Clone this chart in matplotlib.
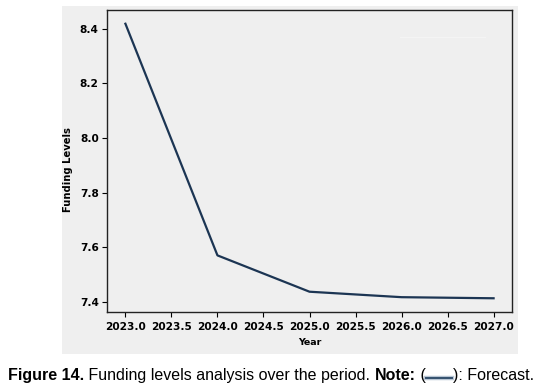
import matplotlib
matplotlib.use("Agg")
import matplotlib.pyplot as plt
from matplotlib.patches import Rectangle
from matplotlib.lines import Line2D

# forecast funding levels
years = [2023, 2024, 2025, 2026, 2027]
funding = [8.418, 7.570, 7.437, 7.417, 7.413]

x_ticks = [2023.0, 2023.5, 2024.0, 2024.5, 2025.0, 2025.5, 2026.0, 2026.5, 2027.0]
y_ticks = [7.4, 7.6, 7.8, 8.0, 8.2, 8.4]

W, H = 546, 392
fig = plt.figure(figsize=(W / 100, H / 100), dpi=100)

# grey screenshot backdrop behind the plot
fig.patches.append(Rectangle((62 / W, (H - 354) / H), (518 - 62) / W, (354 - 6) / H,
                             transform=fig.transFigure, facecolor="#efefef",
                             edgecolor="none", zorder=-5))

ax = fig.add_axes([107 / W, (H - 312) / H, (512 - 107) / W, (312 - 10) / H])
ax.set_zorder(2)
ax.set_facecolor("#efefef")
ax.plot(years, funding, color="#1c3553", lw=1.6)
ax.set_xticks(x_ticks)
ax.set_xticklabels([f"{t:.1f}" for t in x_ticks], fontsize=7.6, fontweight="bold")
ax.set_yticks(y_ticks)
ax.set_yticklabels([f"{t:.1f}" for t in y_ticks], fontsize=7.6, fontweight="bold")
ax.tick_params(length=3.5, width=0.8)
ax.tick_params(axis="x", pad=4)
ax.tick_params(axis="y", pad=2.5)
ax.set_xlabel("Year", fontsize=6.8, fontweight="bold", labelpad=4)
ax.set_ylabel("Funding Levels", fontsize=7.2, fontweight="bold")
ax.yaxis.set_label_coords(-0.084, 0.47)
for s in ax.spines.values():
    s.set_linewidth(1.0)
    s.set_color("#222222")

# faint leftover line at top right
fig.add_artist(Line2D([400 / W, 485 / W], [(H - 37) / H] * 2, color="#f4f4f4", lw=1.0, zorder=5))

# caption, built piece by piece
fam = ["Liberation Sans", "DejaVu Sans"]
pieces = [("Figure 14.", "bold"), (" Funding levels analysis over the period. ", "normal"),
          ("Note:", "bold"), (" (", "normal"), ("LINE", None), ("): Forecast.", "normal")]
fig.canvas.draw()
r = fig.canvas.get_renderer()
x = 8
yb = H - 380
for txt, wt in pieces:
    if txt == "LINE":
        fig.add_artist(Line2D([x / W, (x + 26) / W], [(yb + 2) / H] * 2,
                              color="#b9c6d4", lw=3.2))
        fig.add_artist(Line2D([x / W, (x + 26) / W], [(yb + 2) / H] * 2,
                              color="#34506e", lw=1.4))
        x += 27
        continue
    t = fig.text(x / W, yb / H, txt, fontsize=11.5, fontweight=wt, family=fam,
                 va="baseline", ha="left")
    x += t.get_window_extent(r).width

fig.savefig("out.png", dpi=100)
